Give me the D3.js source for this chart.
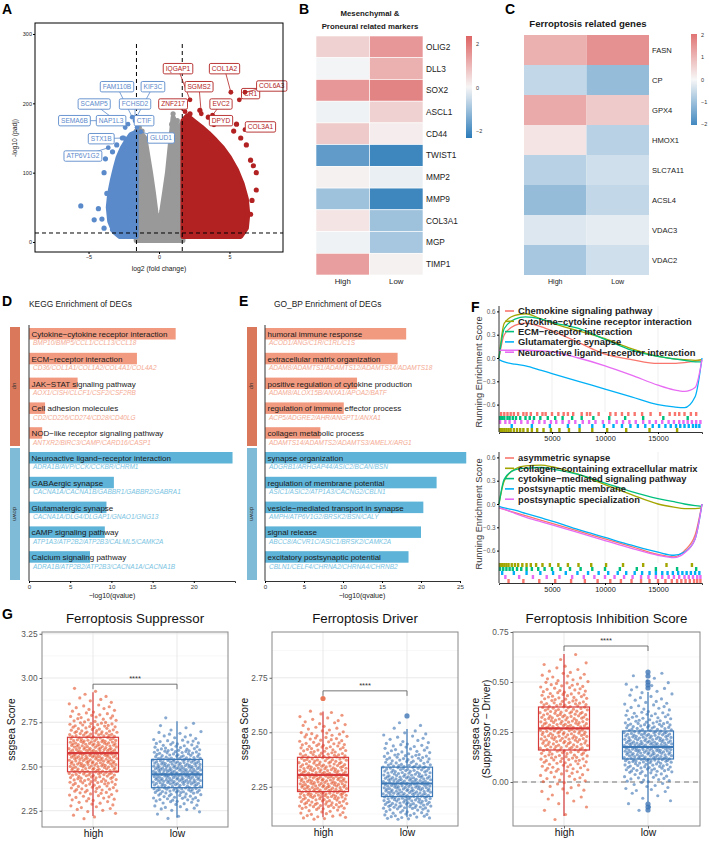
<!DOCTYPE html>
<html>
<head>
<meta charset="utf-8">
<script src="https://cdn.jsdelivr.net/npm/d3@7"></script>
<style>
  body { margin: 0; background: #fff; }
  svg { display: block; font-family: "Liberation Sans", Arial, sans-serif; }
</style>
</head>
<body>
<svg id="fig" width="709" height="843"></svg>
<script>
// ---------- A: volcano ----------
// cloud outlines, [log2FC, -log10 padj]
const grayCloud = [[-1.62,2],[-1.62,160],[-1.3,158],[-1.0,150],[-0.8,125],[-0.6,100],[-0.4,72],[-0.2,40],[0,22],[0.2,45],[0.4,72],[0.6,100],[0.8,140],[1.0,180],[1.3,165],[1.7,172],[1.7,2]];
const blueCloud = [[-1.62,8],[-1.62,158],[-2.0,155],[-2.3,146],[-2.6,136],[-2.9,122],[-3.1,107],[-3.3,90],[-3.5,70],[-3.6,50],[-3.5,30],[-3.2,15],[-2.8,8]];
const redCloud = [[1.7,8],[1.7,175],[2.0,182],[2.5,174],[3.0,166],[3.5,157],[4.0,147],[4.5,136],[5.0,122],[5.5,104],[5.9,84],[6.2,62],[6.3,40],[6.2,20],[5.8,8]];
const grayDots = [[1.0,185],[1.3,175],[-1.4,165],[-1.2,160],[0.9,170]];
const blueDots = [[-5.55,52],[-4.3,48],[-4.6,32],[-4.05,33],[-3.9,20],[-3.3,18],[-3.7,70],[-3.9,100],[-3.8,120],[-3.3,130],[-2.6,150],[-3.0,140]];
const redDots = [[6.7,110],[6.9,100],[6.5,118],[6.2,140],[5.8,150],[5.3,160],[4.5,175],[3.5,180],[2.9,190],[2.2,185],[6.6,60],[6.5,40],[6.9,75],[5.5,170]];
// label: gene, box position, point position (data units)
const downGenes = [
  ['FAM110B', -2.98, 224, -1.9, 180], ['KIF3C', -0.43, 224, -1.6, 180],
  ['SCAMP5', -4.6, 199, -2.4, 165], ['FCHSD2', -1.7, 199, -1.7, 175],
  ['SEMA6B', -6.0, 175, -3.6, 175], ['NAP1L3', -3.4, 175, -2.2, 170],
  ['CTIF', -1.06, 175, -1.56, 165], ['STX1B', -4.1, 149, -2.5, 150],
  ['GLUD1', 0.14, 150, -1.3, 159], ['ATP6V1G2', -5.4, 124, -3.6, 136]
];
const upGenes = [
  ['IQGAP1', 1.35, 250, 2.2, 205], ['COL1A2', 4.65, 250, 5.1, 216],
  ['SGMS2', 2.84, 224, 3.0, 185], ['ZNF217', 1.0, 199, 1.85, 188],
  ['EVC2', 4.4, 199, 3.8, 183], ['CR1', 6.5, 214, 5.7, 205],
  ['COL6A3', 8.0, 225, 6.1, 216], ['DPYD', 4.4, 175, 3.9, 169],
  ['COL3A1', 7.2, 166, 6.1, 162]
];

// ---------- B / C: heatmaps ----------
const groups = ['High', 'Low'];
const markerGenes = ['OLIG2','DLL3','SOX2','ASCL1','CD44','TWIST1','MMP2','MMP9','COL3A1','MGP','TIMP1'];
const markerHigh = [0.6, -0.05, 1.5, -0.1, 0.7, -1.7, 0.1, -1.0, 0.3, -0.1, 1.4];
const markerLow  = [1.5, 1.1, 1.8, 0.6, 0.15, -2.1, -0.15, -2.1, -1.0, -0.9, 0.1];
const ferroGenes = ['FASN','CP','GPX4','HMOX1','SLC7A11','ACSL4','VDAC3','VDAC2'];
const ferroHigh = [1.1, -0.6, 1.2, 0.3, -0.7, -1.1, -0.3, -0.9];
const ferroLow  = [1.6, -1.1, 0.7, -0.7, -0.45, -0.6, -0.2, -0.45];

// ---------- D / E: enrichment ----------
const keggTerms = ['Cytokine−cytokine receptor interaction','ECM−receptor interaction','JAK−STAT signaling pathway','Cell adhesion molecules','NOD−like receptor signaling pathway','Neuroactive ligand−receptor interaction','GABAergic synapse','Glutamatergic synapse','cAMP signaling pathway','Calcium signaling pathway'];
const keggValues = [17.8, 13.1, 5.9, 1.95, 1.6, 24.7, 10.3, 9.4, 9.2, 7.4];
const keggGenes = ['BMP10/BMP5/CCL1/CCL13/CCL18','CD36/COL1A1/COL1A2/COL4A1/COL4A2','AOX1/CISH/CLCF1/CSF2/CSF2RB','CD2/CD226/CD274/CD28/CD40LG','ANTXR2/BIRC3/CAMP/CARD16/CASP1','ADRA1B/AVP/CCK/CCKBR/CHRM1','CACNA1A/CACNA1B/GABBR1/GABBR2/GABRA1','CACNA1A/DLG4/DLGAP1/GNAO1/GNG13','ATP1A3/ATP2B2/ATP2B3/CALML5/CAMK2A','ADRA1B/ATP2B2/ATP2B3/CACNA1A/CACNA1B'];
const goTerms = ['humoral immune response','extracellular matrix organization','positive regulation of cytokine production','regulation of immune effector process','collagen metabolic process','synapse organization','regulation of membrane potential','vesicle−mediated transport in synapse','signal release','excitatory postsynaptic potential'];
const goValues = [18.1, 17.0, 11.8, 10.1, 7.1, 25.8, 22.0, 20.3, 20.0, 18.4];
const goGenes = ['ACOD1/ANG/C1R/C1RL/C1S','ADAM8/ADAMTS1/ADAMTS12/ADAMTS14/ADAMTS18','ADAM8/ALOX15B/ANXA1/APOA2/BATF','ACP5/ADGRE2/AHR/ANGPT1/ANXA1','ADAMTS14/ADAMTS2/ADAMTS3/AMELX/ARG1','ADGRB1/ARHGAP44/ASIC2/BCAN/BSN','ASIC1/ASIC2/ATP1A3/CACNG2/CBLN1','AMPH/ATP6V1G2/BRSK2/BSN/CALY','ABCC8/ACVR1C/ASIC1/BRSK2/CAMK2A','CBLN1/CELF4/CHRNA2/CHRNA4/CHRNB2'];
const direction = ['up','up','up','up','up','down','down','down','down','down'];

// ---------- F: GSEA ----------
const gseaColors = ['#F8766D','#A3A500','#00BF7D','#00B0F6','#E76BF3'];
const keggSets = ['Chemokine signaling pathway','Cytokine−cytokine receptor interaction','ECM−receptor interaction','Glutamatergic synapse','Neuroactive ligand−receptor interaction'];
const rankPos = [0, 500, 1500, 2500, 4000, 5000, 7500, 10000, 12500, 15000, 16500, 17500, 18500, 19150];
const keggES = [
  [0, 0.30, 0.42, 0.45, 0.40, 0.35, 0.20, 0.05, -0.02, -0.07, -0.07, -0.06, -0.04, -0.02],
  [0, 0.45, 0.55, 0.57, 0.50, 0.45, 0.35, 0.25, 0.12, 0.02, -0.01, -0.02, -0.03, -0.02],
  [0, 0.38, 0.50, 0.53, 0.50, 0.46, 0.38, 0.24, 0.10, 0.02, -0.01, -0.03, -0.05, -0.05],
  [-0.02, -0.05, -0.08, -0.10, -0.16, -0.20, -0.30, -0.40, -0.50, -0.60, -0.63, -0.64, -0.50, 0],
  [0.10, 0.10, 0.10, 0.10, 0.09, 0.08, 0.00, -0.10, -0.22, -0.35, -0.41, -0.43, -0.38, -0.02]
];
const goSets = ['asymmetric synapse','collagen−containing extracellular matrix','cytokine−mediated signaling pathway','postsynaptic membrane','postsynaptic specialization'];
const goES = [
  [-0.05, -0.07, -0.11, -0.15, -0.21, -0.25, -0.35, -0.45, -0.55, -0.65, -0.68, -0.60, -0.40, 0],
  [0, 0.30, 0.45, 0.49, 0.50, 0.48, 0.38, 0.25, 0.12, 0.00, -0.04, -0.06, -0.06, -0.05],
  [0, 0.32, 0.44, 0.46, 0.47, 0.45, 0.38, 0.27, 0.16, 0.07, 0.03, 0.00, -0.02, -0.03],
  [-0.03, -0.05, -0.08, -0.12, -0.18, -0.22, -0.33, -0.43, -0.53, -0.62, -0.66, -0.62, -0.45, 0],
  [-0.05, -0.07, -0.12, -0.17, -0.23, -0.27, -0.37, -0.47, -0.57, -0.66, -0.69, -0.63, -0.45, 0]
];
// hit positions (thousands), rows top to bottom
const keggHits = [
  { set: 0, pos: [0.2,0.5,0.8,1.1,1.4,1.8,2.3,2.6,3.0,3.6,4.1,4.4,5.0,5.6,6.1,6.5,7.0,7.8,8.3,8.6,9.4,10.5,11.0,11.6,12.2,12.8,13.5,14.3,15.2,16.1,16.6,17.0,17.5,18.1,18.6] },
  { set: 2, pos: [0.1,0.3,0.5,0.8,1.0,1.3,1.6,2.0,2.5,2.9,3.3,3.9,4.6,5.3,6.0,6.9,7.8,8.9,10.4,11.9,13.6,15.5,17.8] },
  { set: 4, pos: [0.1,0.6,1.0,1.5,2.1,2.7,3.2,3.8,4.3,4.9,5.4,6.0,6.6,7.2,7.9,8.5,9.1,9.8,10.4,11.1,11.7,12.3,12.9,13.6,14.2,14.8,15.4,16.0,16.5,17.0,17.4,17.8,18.2,18.6,19.0] },
  { set: 3, pos: [1.2,3.1,4.8,6.5,7.6,8.8,9.9,10.8,11.6,12.4,13.1,13.8,14.5,15.1,15.7,16.2,16.7,17.1,17.5,17.9,18.3,18.6,18.9] },
  { set: 1, pos: [0.1,0.3,0.5,0.7,0.9,1.1,1.4,1.7,2.0,2.3,2.7,3.1,3.6,4.2,4.9,5.7,6.6,7.6,8.8,10.2,12.0,14.2,16.8] }
];
const goHits = [
  { set: 1, pos: [0.1,0.3,0.5,0.7,0.9,1.2,1.5,1.8,2.2,2.6,3.0,3.5,4.1,4.8,5.6,6.5,7.5,8.7,10.1,11.7,13.6,15.8,18.2] },
  { set: 2, pos: [0.1,0.4,0.7,1.0,1.3,1.7,2.1,2.6,3.1,3.7,4.3,5.0,5.8,6.7,7.7,8.8,10.0,11.4,13.0,14.8,16.8,18.6] },
  { set: 3, pos: [0.3,1.4,2.6,3.9,5.1,6.3,7.4,8.4,9.4,10.3,11.2,12.0,12.8,13.5,14.2,14.8,15.4,15.9,16.4,16.9,17.3,17.7,18.1,18.5,18.9] },
  { set: 4, pos: [0.6,1.9,3.2,4.5,5.7,6.9,8.0,9.0,10.0,10.9,11.8,12.6,13.4,14.1,14.8,15.4,16.0,16.5,17.0,17.5,17.9,18.3,18.7,19.0] },
  { set: 0, pos: [0.9,2.3,3.8,5.3,6.8,8.1,9.3,10.5,11.5,12.5,13.4,14.2,15.0,15.7,16.3,16.8,17.2,17.6,18.0,18.4,18.7,19.0] }
];

// ---------- G: ssgsea boxplots ----------
// box stats: [min, q1, median, q3, max]
const supStats = { high: [2.22, 2.47, 2.575, 2.665, 2.92], low: [2.21, 2.38, 2.455, 2.54, 2.755] };
const drvStats = { high: [2.11, 2.228, 2.305, 2.385, 2.595], low: [2.11, 2.205, 2.265, 2.34, 2.515] };
const inhStats = { high: [-0.17, 0.16, 0.268, 0.375, 0.64], low: [-0.10, 0.115, 0.175, 0.255, 0.45] };
// point counts per 0.05 bin, starting at binStart
const supCounts = { high: [5,10,15,22,30,40,46,50,44,34,24,16,10,6,3], low: [4,12,24,38,52,55,46,32,19,10,4,1] };
const supStart = { high: 2.20, low: 2.20 };
const drvCounts = { high: [18,38,52,54,48,40,29,20,12,8], low: [25,46,57,55,44,30,18,10,4] };
const drvStart = { high: 2.10, low: 2.10 };
const inhCounts = { high: [2,3,5,8,13,20,27,33,37,38,35,30,23,17,11,6,2], low: [3,4,10,18,33,50,56,47,32,20,12,8,7,4] };
const inhStart = { high: -0.20, low: -0.15 };
const drvOutliers = { high: [2.655], low: [2.575] };
const inhOutliers = { high: [], low: [0.47, 0.485, 0.5, 0.53, 0.55, -0.11, -0.125, -0.14] };

const svg = d3.select('#fig');
const txt = '#1a1a1a';

function panelLetter(s, x, y) {
  svg.append('text').attr('x', x).attr('y', y).attr('font-size', 14)
    .attr('font-weight', 'bold').attr('fill', '#000').text(s);
}

// ===== A =====
function drawVolcano() {
  const g = svg.append('g');
  const ax = d3.scaleLinear().domain([-8.8, 8.8]).range([35, 283]);
  const ay = d3.scaleLinear().domain([0, 300]).range([242, 34]);
  const poly = d3.line().x(d => ax(d[0])).y(d => ay(d[1])).curve(d3.curveLinearClosed);
  const clouds = [[grayCloud, '#999999'], [blueCloud, '#5b8acb'], [redCloud, '#b22222']];
  clouds.forEach(([c, col]) => {
    g.append('path').attr('d', poly(c)).attr('fill', col)
      .attr('stroke', col).attr('stroke-width', 5).attr('stroke-linejoin', 'round');
  });
  [[grayDots, '#999999'], [blueDots, '#5b8acb'], [redDots, '#b22222']].forEach(([pts, col]) => {
    g.selectAll(null).data(pts).enter().append('circle')
      .attr('cx', d => ax(d[0])).attr('cy', d => ay(d[1])).attr('r', 2.6).attr('fill', col);
  });
  // thresholds
  [-1.6, 1.65].forEach(v => g.append('line').attr('x1', ax(v)).attr('x2', ax(v))
    .attr('y1', 44).attr('y2', 252).attr('stroke', '#000').attr('stroke-width', 1).attr('stroke-dasharray', '4,3'));
  g.append('line').attr('x1', 35).attr('x2', 283).attr('y1', ay(13)).attr('y2', ay(13))
    .attr('stroke', '#000').attr('stroke-width', 1).attr('stroke-dasharray', '4,3');

  // labels
  const lab = (list, col) => list.forEach(d => {
    const bx = ax(d[1]), by = ay(d[2]);
    g.append('line').attr('x1', bx).attr('y1', by).attr('x2', ax(d[3])).attr('y2', ay(d[4]))
      .attr('stroke', col).attr('stroke-width', 0.8);
    g.append('circle').attr('cx', ax(d[3])).attr('cy', ay(d[4])).attr('r', 2.4).attr('fill', col);
    const t = g.append('text').attr('x', bx).attr('y', by + 2.4).attr('text-anchor', 'middle')
      .attr('font-size', 6.6).attr('fill', col).text(d[0]);
    const w = t.node().getComputedTextLength();
    g.insert('rect', () => t.node()).attr('x', bx - w / 2 - 2.5).attr('y', by - 5.2)
      .attr('width', w + 5).attr('height', 10.4).attr('rx', 1.5)
      .attr('fill', '#fff').attr('stroke', col).attr('stroke-width', 0.9);
  });
  lab(downGenes, '#5b8acb');
  lab(upGenes, '#b22222');

  g.append('rect').attr('x', 35).attr('y', 23).attr('width', 248).attr('height', 229)
    .attr('fill', 'none').attr('stroke', '#000').attr('stroke-width', 1);
  const yA = g.append('g').attr('transform', 'translate(35,0)')
    .call(d3.axisLeft(ay).tickValues([0, 100, 200, 300]).tickSize(2).tickPadding(1));
  const xA = g.append('g').attr('transform', 'translate(0,252)')
    .call(d3.axisBottom(ax).tickValues([-5, 0, 5]).tickSize(2).tickPadding(1));
  [yA, xA].forEach(a => {
    a.select('.domain').remove();
    a.selectAll('text').attr('font-size', 5.5).attr('fill', '#222').attr('font-family', null);
  });
  g.append('text').attr('x', 159).attr('y', 271).attr('text-anchor', 'middle')
    .attr('font-size', 6.8).attr('fill', txt).text('log2 (fold change)');
  g.append('text').attr('transform', 'translate(17,138) rotate(-90)').attr('text-anchor', 'middle')
    .attr('font-size', 6.8).attr('fill', txt).text('-log10 (padj)');
}

// ===== B / C =====
const heatColor = d3.scaleLinear().domain([-2.3, 0, 2.3]).range(['#2b7bb9', '#f7f7f7', '#de6464']).clamp(true);

function drawHeat(cfg) {
  const g = svg.append('g');
  const x = d3.scaleBand().domain(groups).range([cfg.x0, cfg.x1]);
  const y = d3.scaleBand().domain(cfg.genes).range([cfg.y0, cfg.y1]);
  const cells = [];
  cfg.genes.forEach((gn, i) => {
    cells.push({ gene: gn, grp: 'High', v: cfg.high[i] });
    cells.push({ gene: gn, grp: 'Low', v: cfg.low[i] });
  });
  g.selectAll(null).data(cells).enter().append('rect')
    .attr('x', d => x(d.grp)).attr('y', d => y(d.gene))
    .attr('width', x.bandwidth()).attr('height', y.bandwidth())
    .attr('fill', d => heatColor(d.v))
    .attr('stroke', cfg.border ? '#fff' : 'none').attr('stroke-width', 0.6);
  g.selectAll(null).data(cfg.genes).enter().append('text')
    .attr('x', cfg.x1 + 3).attr('y', d => y(d) + y.bandwidth() / 2 + cfg.fs * 0.36)
    .attr('font-size', cfg.fs).attr('fill', txt).text(d => d);
  g.selectAll(null).data(groups).enter().append('text')
    .attr('x', d => x(d) + x.bandwidth() / 2).attr('y', cfg.y1 + 9).attr('text-anchor', 'middle')
    .attr('font-size', cfg.fs - 0.5).attr('fill', txt).text(d => d);

  // colour key
  const id = 'grad' + cfg.key;
  const grad = svg.append('defs').append('linearGradient').attr('id', id)
    .attr('x1', 0).attr('x2', 0).attr('y1', 0).attr('y2', 1);
  const ly = d3.scaleLinear().domain(cfg.legDomain).range([cfg.ly0, cfg.ly1]);
  d3.range(0, 1.001, 0.1).forEach(t => {
    const v = cfg.legDomain[0] + t * (cfg.legDomain[1] - cfg.legDomain[0]);
    grad.append('stop').attr('offset', t).attr('stop-color', heatColor(v));
  });
  g.append('rect').attr('x', cfg.lx).attr('y', cfg.ly0).attr('width', 6)
    .attr('height', cfg.ly1 - cfg.ly0).attr('fill', `url(#${id})`);
  g.selectAll(null).data(cfg.legTicks).enter().append('text')
    .attr('x', cfg.lx + 10).attr('y', d => ly(d) + 2).attr('font-size', 5.5).attr('fill', '#333')
    .text(d => d < 0 ? '−' + Math.abs(d) : d);
}

// ===== D / E =====
function drawEnrich(cfg) {
  const g = svg.append('g');
  const x = d3.scaleLinear().domain([0, 25]).range([cfg.ax, cfg.ax + 25 * cfg.ppu]);
  const y = d3.scaleBand().domain(d3.range(cfg.terms.length)).range([328, 576]);
  const upCol = '#f29a80', dnCol = '#5db3d8';
  // strips
  g.append('rect').attr('x', cfg.sx).attr('y', 327).attr('width', 10).attr('height', 119).attr('fill', '#d9785b');
  g.append('rect').attr('x', cfg.sx).attr('y', 448).attr('width', 10).attr('height', 132).attr('fill', '#7fbad6');
  g.append('text').attr('transform', `translate(${cfg.sx + 3},386) rotate(90)`).attr('text-anchor', 'middle')
    .attr('font-size', 5.8).attr('fill', '#333').text('up');
  g.append('text').attr('transform', `translate(${cfg.sx + 3},514) rotate(90)`).attr('text-anchor', 'middle')
    .attr('font-size', 5.8).attr('fill', '#333').text('down');

  const rows = cfg.terms.map((t, i) => ({ i, t, v: cfg.values[i], gn: cfg.genes[i], dir: direction[i] }));
  g.selectAll(null).data(rows).enter().append('rect')
    .attr('x', x(0)).attr('y', d => y(d.i)).attr('width', d => x(d.v) - x(0)).attr('height', 11.5)
    .attr('fill', d => d.dir === 'up' ? upCol : dnCol);
  g.selectAll(null).data(rows).enter().append('text')
    .attr('x', x(0) + 2.5).attr('y', d => y(d.i) + 9).attr('font-size', 8).attr('fill', txt)
    .text(d => d.t);
  g.selectAll(null).data(rows).enter().append('text')
    .attr('x', x(0) + 4).attr('y', d => y(d.i) + 17.4).attr('font-size', 6.5).attr('font-style', 'italic')
    .attr('fill', d => d.dir === 'up' ? '#f4ab94' : '#79c3e2').text(d => d.gn);

  const xa = g.append('g').attr('transform', 'translate(0,581)')
    .call(d3.axisBottom(x).tickValues(cfg.ticks).tickSize(2).tickPadding(1.5));
  xa.select('.domain').attr('stroke', '#333');
  xa.selectAll('text').attr('font-size', 6.2).attr('fill', '#333').attr('font-family', null);
  g.append('line').attr('x1', x(0)).attr('x2', x(0)).attr('y1', 325).attr('y2', 581).attr('stroke', '#333');
  g.append('text').attr('x', cfg.labX).attr('y', 598).attr('text-anchor', 'middle')
    .attr('font-size', 7).attr('fill', txt).text('−log10(qvalue)');
  g.append('text').attr('x', cfg.tx).attr('y', 307).attr('font-size', 8.4).attr('fill', txt).text(cfg.title);
}

// ===== F =====
function drawGsea(cfg) {
  const g = svg.append('g');
  const x = d3.scaleLinear().domain([0, 19150]).range([499, 702]);
  const y = d3.scaleLinear().domain([0, 0.3]).range([cfg.zero, cfg.zero - 23.3]);
  [5000, 10000, 15000].forEach(v => g.append('line').attr('x1', x(v)).attr('x2', x(v))
    .attr('y1', cfg.top).attr('y2', cfg.rug0).attr('stroke', '#ebebeb').attr('stroke-width', 0.8));
  const line = d3.line().x((d, i) => x(rankPos[i])).y(d => y(d)).curve(d3.curveMonotoneX);
  cfg.es.forEach((s, k) => g.append('path').attr('d', line(s)).attr('fill', 'none')
    .attr('stroke', gseaColors[k]).attr('stroke-width', 1.3));
  // rug
  const rh = (cfg.rug1 - cfg.rug0) / cfg.hits.length;
  cfg.hits.forEach((row, r) => {
    g.selectAll(null).data(row.pos).enter().append('rect')
      .attr('x', d => x(d * 1000) - 1.2).attr('y', cfg.rug0 + r * rh).attr('width', 2.4).attr('height', rh)
      .attr('fill', gseaColors[row.set]);
  });
  g.append('line').attr('x1', 499).attr('x2', 499).attr('y1', cfg.top).attr('y2', cfg.rug1).attr('stroke', '#333');
  const ya = g.append('g').attr('transform', 'translate(499,0)')
    .call(d3.axisLeft(y).tickValues([-0.6, -0.3, 0, 0.3, 0.6]).tickFormat(d3.format('.1f')).tickSize(2).tickPadding(1.5));
  ya.select('.domain').remove();
  ya.selectAll('text').attr('font-size', 6.3).attr('fill', '#555').attr('font-family', null);
  const xa = g.append('g').attr('transform', `translate(0,${cfg.rug1})`)
    .call(d3.axisBottom(x).tickValues([5000, 10000, 15000]).tickFormat(d3.format('d')).tickSize(2).tickPadding(1.5));
  xa.select('.domain').attr('stroke', '#333');
  xa.selectAll('text').attr('font-size', 7.4).attr('fill', '#222').attr('font-family', null);
  g.append('text').attr('transform', `translate(482,${cfg.ycen}) rotate(-90)`).attr('text-anchor', 'middle')
    .attr('font-size', 9.3).attr('fill', '#333').text('Running Enrichment Score');
  cfg.sets.forEach((s, k) => {
    const ly = cfg.leg0 + k * 10.3;
    g.append('line').attr('x1', 505).attr('x2', 514).attr('y1', ly).attr('y2', ly)
      .attr('stroke', gseaColors[k]).attr('stroke-width', 1.6);
    g.append('text').attr('x', 518).attr('y', ly + 3.3).attr('font-size', 9.4).attr('font-weight', 'bold')
      .attr('fill', '#222').text(s);
  });
}

// ===== G =====
// points evenly stratified inside each bin; horizontal jitter from a van der Corput sequence
function vdc(i) {
  let r = 0, f = 0.5;
  while (i > 0) { r += f * (i & 1); i >>= 1; f /= 2; }
  return r;
}
function spread(counts, start) {
  const pts = [];
  let idx = 1;
  counts.forEach((n, b) => {
    for (let k = 0; k < n; k++) {
      const v = start + b * 0.05 + (k + 0.5) / n * 0.05;
      pts.push({ v, j: vdc(idx * 7 + 3) * 2 - 1 });
      idx++;
    }
  });
  return pts;
}

function drawBox(cfg) {
  const g = svg.append('g');
  const y = d3.scaleLinear().domain(cfg.yDomain).range([cfg.y1, cfg.y0]);
  const x = d3.scalePoint().domain(['high', 'low']).range(cfg.cx);
  const cols = { high: { pt: '#e4572e', box: '#d73a3a' }, low: { pt: '#3f76b5', box: '#3c78b6' } };
  // grid
  const minor = [];
  for (let i = 0; i < cfg.ticks.length - 1; i++) minor.push((cfg.ticks[i] + cfg.ticks[i + 1]) / 2);
  minor.push(cfg.ticks[0] - (cfg.ticks[1] - cfg.ticks[0]) / 2, cfg.ticks[cfg.ticks.length - 1] + (cfg.ticks[1] - cfg.ticks[0]) / 2);
  minor.filter(v => y(v) > cfg.y0 && y(v) < cfg.y1).forEach(v => g.append('line')
    .attr('x1', cfg.x0).attr('x2', cfg.x1).attr('y1', y(v)).attr('y2', y(v)).attr('stroke', '#f3f3f3').attr('stroke-width', 0.6));
  cfg.ticks.forEach(v => g.append('line')
    .attr('x1', cfg.x0).attr('x2', cfg.x1).attr('y1', y(v)).attr('y2', y(v)).attr('stroke', '#e6e6e6').attr('stroke-width', 0.9));
  ['high', 'low'].forEach(k => g.append('line')
    .attr('x1', x(k)).attr('x2', x(k)).attr('y1', cfg.y0).attr('y2', cfg.y1).attr('stroke', '#e6e6e6').attr('stroke-width', 0.9));
  if (cfg.zeroLine) g.append('line').attr('x1', cfg.x0).attr('x2', cfg.x1).attr('y1', y(0)).attr('y2', y(0))
    .attr('stroke', '#777').attr('stroke-width', 1.2).attr('stroke-dasharray', '5,4');

  ['high', 'low'].forEach(k => {
    const s = cfg.stats[k], c = cols[k], cx = x(k), hw = 25.5;
    g.selectAll(null).data(spread(cfg.counts[k], cfg.start[k])).enter().append('circle')
      .attr('cx', d => cx + d.j * 24).attr('cy', d => y(d.v)).attr('r', 1.6)
      .attr('fill', c.pt).attr('fill-opacity', 0.62);
    g.append('line').attr('x1', cx).attr('x2', cx).attr('y1', y(s[0])).attr('y2', y(s[1])).attr('stroke', c.box).attr('stroke-width', 1.2);
    g.append('line').attr('x1', cx).attr('x2', cx).attr('y1', y(s[3])).attr('y2', y(s[4])).attr('stroke', c.box).attr('stroke-width', 1.2);
    g.append('rect').attr('x', cx - hw).attr('y', y(s[3])).attr('width', hw * 2).attr('height', y(s[1]) - y(s[3]))
      .attr('fill', 'none').attr('stroke', c.box).attr('stroke-width', 1.2);
    g.append('line').attr('x1', cx - hw).attr('x2', cx + hw).attr('y1', y(s[2])).attr('y2', y(s[2])).attr('stroke', c.box).attr('stroke-width', 2.2);
    g.selectAll(null).data(cfg.outliers ? cfg.outliers[k] : []).enter().append('circle')
      .attr('cx', cx).attr('cy', d => y(d)).attr('r', 2.6).attr('fill', c.pt).attr('fill-opacity', 0.8);
  });
  // significance
  const by = y(cfg.bracket), bd = 5;
  g.append('path').attr('d', `M${x('high')},${by + bd}V${by}H${x('low')}V${by + bd}`)
    .attr('fill', 'none').attr('stroke', '#666').attr('stroke-width', 0.9);
  g.append('text').attr('x', (x('high') + x('low')) / 2).attr('y', by - 3).attr('text-anchor', 'middle')
    .attr('font-size', 7.5).attr('fill', '#333').text('****');

  g.append('rect').attr('x', cfg.x0).attr('y', cfg.y0).attr('width', cfg.x1 - cfg.x0).attr('height', cfg.y1 - cfg.y0)
    .attr('fill', 'none').attr('stroke', '#888').attr('stroke-width', 1);
  const ya = g.append('g').attr('transform', `translate(${cfg.x0},0)`)
    .call(d3.axisLeft(y).tickValues(cfg.ticks).tickFormat(d3.format('.2f')).tickSize(2.5).tickPadding(2));
  ya.select('.domain').remove();
  ya.selectAll('line').attr('stroke', '#666');
  ya.selectAll('text').attr('font-size', 8.3).attr('fill', '#555').attr('font-family', null);
  const xa = g.append('g').attr('transform', `translate(0,${cfg.y1})`)
    .call(d3.axisBottom(x).tickSize(2.5).tickPadding(2));
  xa.select('.domain').remove();
  xa.selectAll('line').attr('stroke', '#666');
  xa.selectAll('text').attr('font-size', 10.3).attr('fill', '#111').attr('font-family', null).attr('dy', '0.55em');
  g.append('text').attr('x', (cfg.x0 + cfg.x1) / 2).attr('y', 623).attr('text-anchor', 'middle')
    .attr('font-size', 13.3).attr('fill', '#111').text(cfg.title);
  cfg.ylab.forEach((l, i) => g.append('text')
    .attr('transform', `translate(${cfg.ylx + i * 11},${(cfg.y0 + cfg.y1) / 2}) rotate(-90)`)
    .attr('text-anchor', 'middle').attr('font-size', 10.3).attr('fill', '#111').text(l));
}

drawVolcano();
drawHeat({ key: 'B', genes: markerGenes, high: markerHigh, low: markerLow, x0: 316, x1: 423, y0: 36, y1: 275, fs: 8.3, border: true,
  lx: 466, ly0: 36, ly1: 138, legDomain: [2.35, -2.3], legTicks: [2, 0, -2] });
drawHeat({ key: 'C', genes: ferroGenes, high: ferroHigh, low: ferroLow, x0: 524, x1: 649, y0: 35, y1: 275, fs: 7.6, border: false,
  lx: 691, ly0: 34, ly1: 125, legDomain: [2.05, -2.05], legTicks: [2, 1, 0, -1, -2] });
svg.append('text').attr('x', 370).attr('y', 16).attr('text-anchor', 'middle').attr('font-size', 7.8)
  .attr('font-weight', 'bold').attr('fill', txt).text('Mesenchymal &');
svg.append('text').attr('x', 370).attr('y', 29).attr('text-anchor', 'middle').attr('font-size', 7.8)
  .attr('font-weight', 'bold').attr('fill', txt).text('Proneural related markers');
svg.append('text').attr('x', 588).attr('y', 27).attr('text-anchor', 'middle').attr('font-size', 9.6)
  .attr('font-weight', 'bold').attr('fill', txt).text('Ferroptosis related genes');

drawEnrich({ key: 'D', terms: keggTerms, values: keggValues, genes: keggGenes, ax: 29, ppu: 8.24, sx: 10, ticks: [0, 5, 10, 15, 20], tx: 29, labX: 112, title: 'KEGG Enrichment of DEGs' });
drawEnrich({ key: 'E', terms: goTerms, values: goValues, genes: goGenes, ax: 265, ppu: 7.8, sx: 247, ticks: [0, 5, 10, 15, 20, 25], tx: 274, labX: 362, title: 'GO_BP Enrichment of DEGs' });

drawGsea({ es: keggES, sets: keggSets, hits: keggHits, zero: 358, top: 306, rug0: 412, rug1: 432, ycen: 372, leg0: 311 });
drawGsea({ es: goES, sets: goSets, hits: goHits, zero: 504, top: 452, rug0: 563, rug1: 583, ycen: 514, leg0: 458 });

drawBox({ title: 'Ferroptosis Suppressor', stats: supStats, counts: supCounts, start: supStart, yDomain: [2.158, 3.26],
  ticks: [2.25, 2.5, 2.75, 3.0, 3.25], x0: 42, x1: 228, y0: 632, y1: 827, cx: [93, 177], bracket: 2.965, ylab: ['ssgsea Score'], ylx: 15 });
drawBox({ title: 'Ferroptosis Driver', stats: drvStats, counts: drvCounts, start: drvStart, outliers: drvOutliers, yDomain: [2.07, 2.96],
  ticks: [2.25, 2.5, 2.75], x0: 272, x1: 458, y0: 632, y1: 826, cx: [323, 407], bracket: 2.69, ylab: ['ssgsea Score'], ylx: 248 });
drawBox({ title: 'Ferroptosis Inhibition Score', stats: inhStats, counts: inhCounts, start: inhStart, outliers: inhOutliers, yDomain: [-0.22, 0.75],
  ticks: [0, 0.25, 0.5, 0.75], x0: 513, x1: 700, y0: 632, y1: 826, cx: [564, 648], bracket: 0.68, zeroLine: true,
  ylab: ['ssgsea Score', '(Suppressor − Driver)'], ylx: 479 });

panelLetter('A', 2, 14);
panelLetter('B', 299, 14);
panelLetter('C', 505, 14);
panelLetter('D', 2, 306);
panelLetter('E', 239, 306);
panelLetter('F', 471, 312);
panelLetter('G', 2, 619);
</script>
</body>
</html>
